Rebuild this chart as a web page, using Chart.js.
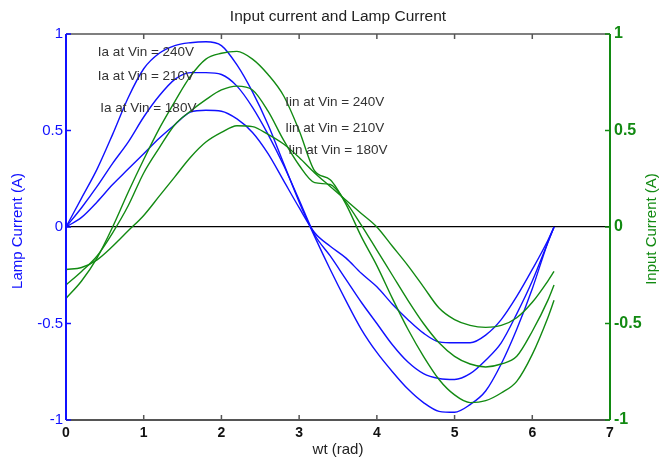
<!DOCTYPE html>
<html lang="en">
<head>
<meta charset="UTF-8" />
<title>Input current and Lamp Current</title>
<script src="https://cdn.jsdelivr.net/npm/chart.js"></script>
<style>
  html, body { margin: 0; padding: 0; background: #fff; }
  #wrap { width: 660px; height: 462px; }
</style>
</head>
<body>
<div id="wrap"><canvas id="chart" width="660" height="462"></canvas></div>
<script>
  // wt (rad) sample points shared by all curves
  const wt = [0, 0.2, 0.4, 0.6, 0.8, 1.0, 1.2, 1.4, 1.6, 1.8, 2.0, 2.2, 2.4, 2.6, 2.8, 3.0,
              3.2, 3.4, 3.6, 3.8, 4.0, 4.2, 4.4, 4.6, 4.8, 5.0, 5.2, 5.4, 5.6, 5.8, 6.0, 6.2, 6.28];

  // lamp current Ia (A), left axis
  const ia240 = [0, 0.15, 0.30, 0.48, 0.67, 0.82, 0.90, 0.94, 0.955, 0.96, 0.94, 0.84, 0.70, 0.53, 0.33, 0.13,
                 -0.05, -0.22, -0.38, -0.53, -0.65, -0.75, -0.84, -0.91, -0.955, -0.96, -0.92, -0.85, -0.71, -0.53, -0.32, -0.08, 0];
  const ia210 = [0, 0.10, 0.21, 0.33, 0.44, 0.57, 0.68, 0.765, 0.80, 0.80, 0.79, 0.73, 0.62, 0.48, 0.32, 0.14,
                 -0.04, -0.15, -0.27, -0.39, -0.50, -0.61, -0.70, -0.76, -0.785, -0.79, -0.76, -0.69, -0.60, -0.45, -0.28, -0.08, 0];
  const ia180 = [0, 0.05, 0.13, 0.22, 0.30, 0.38, 0.46, 0.53, 0.595, 0.605, 0.60, 0.56, 0.49, 0.38, 0.24, 0.10,
                 -0.03, -0.10, -0.16, -0.24, -0.31, -0.40, -0.48, -0.55, -0.595, -0.60, -0.60, -0.56, -0.48, -0.36, -0.22, -0.07, 0];

  // input current Iin (A), right axis
  const iin240 = [-0.37, -0.28, -0.16, 0.00, 0.18, 0.35, 0.51, 0.65, 0.78, 0.87, 0.90, 0.91, 0.87, 0.79, 0.68, 0.50,
                  0.29, 0.245, 0.12, -0.05, -0.20, -0.37, -0.53, -0.67, -0.79, -0.87, -0.91, -0.90, -0.86, -0.80, -0.66, -0.47, -0.38];
  const iin210 = [-0.30, -0.23, -0.15, -0.03, 0.11, 0.28, 0.41, 0.53, 0.60, 0.66, 0.71, 0.73, 0.71, 0.60, 0.45, 0.32,
                  0.23, 0.22, 0.13, 0.01, -0.12, -0.25, -0.38, -0.50, -0.60, -0.67, -0.71, -0.725, -0.71, -0.67, -0.54, -0.38, -0.30];
  const iin180 = [-0.22, -0.21, -0.17, -0.10, -0.02, 0.06, 0.16, 0.26, 0.36, 0.44, 0.49, 0.525, 0.52, 0.48, 0.43, 0.36,
                  0.28, 0.21, 0.14, 0.07, 0.00, -0.10, -0.20, -0.31, -0.42, -0.48, -0.51, -0.52, -0.51, -0.47, -0.39, -0.28, -0.23];

  // ticks
  const xTicks = [0, 1, 2, 3, 4, 5, 6, 7];
  const yTicks = [-1, -0.5, 0, 0.5, 1];

  // curve labels (text, wt, current)
  const notes = [
    ['Ia at Vin = 240V', 0.41, 0.905],
    ['Ia at Vin = 210V', 0.41, 0.78],
    ['Ia at Vin = 180V', 0.44, 0.615],
    ['Iin at Vin = 240V', 2.82, 0.648],
    ['Iin at Vin = 210V', 2.82, 0.513],
    ['Iin at Vin = 180V', 2.86, 0.40]
  ];

  const BLUE = '#1010ff';
  const GREEN = '#128a12';
  const FONT = 'Arial, "Liberation Sans", sans-serif';

  const pts = ys => wt.map((x, i) => ({ x: x, y: ys[i] }));

  function curve(data, color, axis) {
    return {
      data: pts(data),
      borderColor: color,
      borderWidth: 1.4,
      pointRadius: 0,
      fill: false,
      cubicInterpolationMode: 'monotone',
      yAxisID: axis
    };
  }

  // matlab style frame, inward ticks, titles and curve labels
  const frame = {
    id: 'frame',
    afterDraw(chart) {
      const { ctx, chartArea: a, scales } = chart;
      const sx = scales.x, sl = scales.yL, sr = scales.yR;
      const seg = (x1, y1, x2, y2) => { ctx.beginPath(); ctx.moveTo(x1, y1); ctx.lineTo(x2, y2); ctx.stroke(); };
      ctx.save();

      ctx.strokeStyle = '#555';
      ctx.lineWidth = 1.5;
      seg(a.left, a.top, a.right, a.top);
      ctx.lineWidth = 2;
      seg(a.left, a.bottom, a.right, a.bottom);
      ctx.lineWidth = 1.5;
      xTicks.slice(1, -1).forEach(v => {
        const px = sx.getPixelForValue(v);
        seg(px, a.bottom, px, a.bottom - 5);
        seg(px, a.top, px, a.top + 5);
      });

      ctx.strokeStyle = BLUE;
      ctx.lineWidth = 2;
      seg(a.left, a.top, a.left, a.bottom);
      ctx.lineWidth = 1.5;
      yTicks.forEach(v => { const py = sl.getPixelForValue(v); seg(a.left, py, a.left + 5, py); });

      ctx.strokeStyle = GREEN;
      ctx.lineWidth = 2;
      seg(a.right, a.top, a.right, a.bottom);
      ctx.lineWidth = 1.5;
      yTicks.forEach(v => { const py = sr.getPixelForValue(v); seg(a.right, py, a.right - 5, py); });

      // title
      ctx.fillStyle = '#222';
      ctx.font = '15.5px ' + FONT;
      ctx.textAlign = 'center';
      ctx.textBaseline = 'middle';
      ctx.fillText('Input current and Lamp Current', (a.left + a.right) / 2, 17);

      // x title
      ctx.font = '15px ' + FONT;
      ctx.fillText('wt (rad)', (a.left + a.right) / 2, 450);

      // y titles
      ctx.save();
      ctx.translate(18, (a.top + a.bottom) / 2 + 4);
      ctx.rotate(-Math.PI / 2);
      ctx.fillStyle = BLUE;
      ctx.fillText('Lamp Current (A)', 0, 0);
      ctx.restore();

      ctx.save();
      ctx.translate(652, (a.top + a.bottom) / 2 + 2);
      ctx.rotate(-Math.PI / 2);
      ctx.fillStyle = GREEN;
      ctx.fillText('Input Current (A)', 0, 0);
      ctx.restore();

      // curve labels
      ctx.fillStyle = '#333';
      ctx.font = '13.5px ' + FONT;
      ctx.textAlign = 'left';
      notes.forEach(n => ctx.fillText(n[0], sx.getPixelForValue(n[1]), sl.getPixelForValue(n[2])));

      ctx.restore();
    }
  };

  const plain = v => String(v);

  new Chart(document.getElementById('chart'), {
    type: 'line',
    data: {
      datasets: [
        curve(iin240, GREEN, 'yR'),
        curve(iin210, GREEN, 'yR'),
        curve(iin180, GREEN, 'yR'),
        curve(ia240, BLUE, 'yL'),
        curve(ia210, BLUE, 'yL'),
        curve(ia180, BLUE, 'yL')
      ]
    },
    options: {
      responsive: false,
      animation: false,
      layout: { padding: { top: 34, left: 0, right: 0, bottom: 0 } },
      plugins: { legend: { display: false }, tooltip: { enabled: false } },
      scales: {
        x: {
          type: 'linear',
          min: 0, max: 7,
          afterBuildTicks: s => { s.ticks = xTicks.map(v => ({ value: v })); },
          afterFit: s => { s.height = 42; },
          grid: { display: false, drawTicks: false },
          border: { display: false },
          ticks: { color: '#111', padding: 5, maxRotation: 0, callback: plain,
                   font: { family: FONT, size: 14, weight: 'bold' } }
        },
        yL: {
          type: 'linear',
          position: 'left',
          min: -1, max: 1,
          afterBuildTicks: s => { s.ticks = yTicks.map(v => ({ value: v })); },
          afterFit: s => { s.width = 66; },
          grid: {
            drawTicks: false,
            lineWidth: 1.2,
            color: c => (c.tick && c.tick.value === 0) ? '#000' : 'rgba(0,0,0,0)'
          },
          border: { display: false },
          ticks: { color: BLUE, padding: 3, callback: plain, font: { family: FONT, size: 15 } }
        },
        yR: {
          type: 'linear',
          position: 'right',
          min: -1, max: 1,
          afterBuildTicks: s => { s.ticks = yTicks.map(v => ({ value: v })); },
          afterFit: s => { s.width = 50; },
          grid: { display: false, drawTicks: false },
          border: { display: false },
          ticks: { color: GREEN, padding: 4, callback: plain, font: { family: FONT, size: 16, weight: 'bold' } }
        }
      }
    },
    plugins: [frame]
  });
</script>
</body>
</html>
